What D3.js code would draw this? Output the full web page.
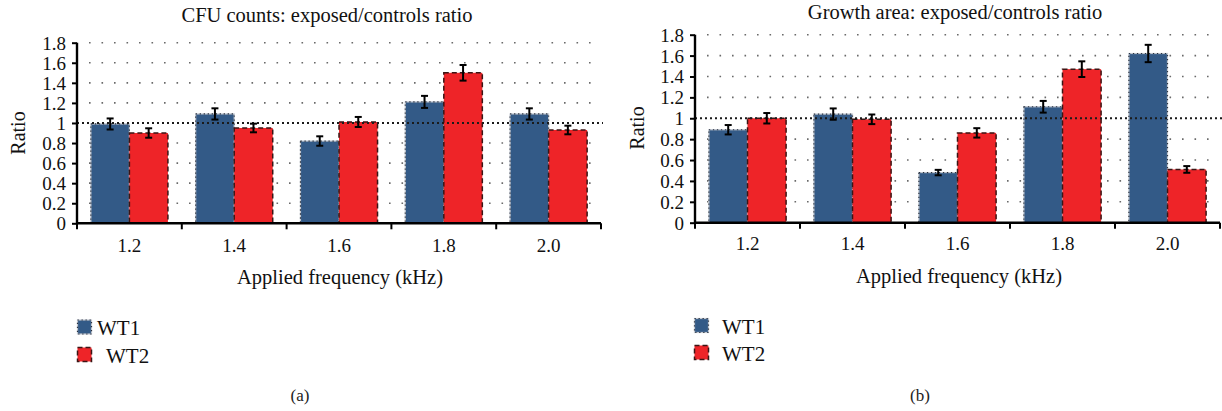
<!DOCTYPE html>
<html>
<head>
<meta charset="utf-8">
<script src="https://cdn.jsdelivr.net/npm/d3@7"></script>
<style>
  body { margin: 0; background: #fff; }
  svg { display: block; }
  svg text { font-family: "Liberation Serif", "Times New Roman", serif; }
</style>
</head>
<body>
<div id="chart"></div>
<script>
// Ratios exposed/controls
const categories = ["1.2", "1.4", "1.6", "1.8", "2.0"];
const seriesNames = ["WT1", "WT2"];
const yTickValues = [0, 0.2, 0.4, 0.6, 0.8, 1, 1.2, 1.4, 1.6, 1.8];

// (a) CFU counts
const cfuWT1 = [0.99, 1.09, 0.82, 1.21, 1.09];
const cfuWT2 = [0.90, 0.95, 1.01, 1.50, 0.93];
const cfuErrWT1 = [0.055, 0.056, 0.047, 0.06, 0.056];
const cfuErrWT2 = [0.047, 0.043, 0.05, 0.078, 0.043];

// (b) Growth area
const areaWT1 = [0.89, 1.04, 0.48, 1.11, 1.62];
const areaWT2 = [1.00, 0.99, 0.86, 1.47, 0.51];
const areaErrWT1 = [0.045, 0.054, 0.026, 0.056, 0.083];
const areaErrWT2 = [0.05, 0.046, 0.045, 0.075, 0.032];

const BLUE = "#335a87";
const RED = "#ee2428";
const FONT = "Liberation Serif, Times New Roman, serif";

const svg = d3.select("#chart").append("svg")
  .attr("width", 1222)
  .attr("height", 411)
  .attr("font-family", FONT);

function fmtTick(v) {
  return (v === 0 || v === 1) ? String(v) : v.toFixed(1);
}

// bar avec bordure pointillée (bleu) ou tiretée (rouge)
function styledRect(g, x, y, w, h, series) {
  if (series === 0) {
    g.append("rect").attr("x", x).attr("y", y).attr("width", w).attr("height", h)
      .attr("fill", BLUE).attr("stroke", "#c3c9d2").attr("stroke-width", 1.2);
    g.append("rect").attr("x", x).attr("y", y).attr("width", w).attr("height", h)
      .attr("fill", "none").attr("stroke", "#2b3340").attr("stroke-width", 1.2)
      .attr("stroke-dasharray", "1.3,2.7");
  } else {
    g.append("rect").attr("x", x).attr("y", y).attr("width", w).attr("height", h)
      .attr("fill", RED).attr("stroke", "#3b1515").attr("stroke-width", 1.5)
      .attr("stroke-dasharray", "5,3");
  }
}

function label(g, x, y, size, txt) {
  return g.append("text").attr("x", x).attr("y", y)
    .attr("font-family", FONT).attr("font-size", size).attr("fill", "#111")
    .text(txt);
}

function drawPanel(cfg) {
  const g = svg.append("g");
  const x = d3.scaleBand().domain(categories).range([cfg.x0, cfg.x1]).paddingInner(0).paddingOuter(0);
  const y = d3.scaleLinear().domain([0, 1.8]).range([cfg.yBottom, cfg.yTop]);
  const inner = d3.scaleBand().domain([0, 1]).range([0, x.bandwidth()]).paddingOuter(0.36).paddingInner(0);

  // grille pointillée
  g.append("g").selectAll("line")
    .data(yTickValues.filter(v => v !== 0 && v !== 1))
    .join("line")
    .attr("x1", cfg.x0 + 12).attr("x2", cfg.x1 - 4)
    .attr("y1", d => y(d)).attr("y2", d => y(d))
    .attr("stroke", "#6a6a6a").attr("stroke-width", 1.6)
    .attr("stroke-dasharray", "1.6,10.9");

  // barres
  const series = [
    { vals: cfg.wt1, errs: cfg.err1 },
    { vals: cfg.wt2, errs: cfg.err2 }
  ];
  const gBars = g.append("g");
  series.forEach((s, si) => {
    s.vals.forEach((v, i) => {
      const bx = x(categories[i]) + inner(si);
      styledRect(gBars, bx, y(v), inner.bandwidth(), y(0) - y(v), si);
    });
  });

  // ligne de référence à 1
  g.append("line")
    .attr("x1", cfg.x0).attr("x2", cfg.x1 + 2)
    .attr("y1", y(1)).attr("y2", y(1))
    .attr("stroke", "#1a1a1a").attr("stroke-width", 2)
    .attr("stroke-dasharray", "2,3");

  // barres d'erreur
  const gErr = g.append("g").attr("stroke", "#000").attr("stroke-width", 2);
  series.forEach((s, si) => {
    s.vals.forEach((v, i) => {
      const cx = x(categories[i]) + inner(si) + inner.bandwidth() / 2;
      const e = s.errs[i];
      gErr.append("line").attr("x1", cx).attr("x2", cx).attr("y1", y(v + e)).attr("y2", y(v - e));
      gErr.append("line").attr("x1", cx - 3.5).attr("x2", cx + 3.5).attr("y1", y(v + e)).attr("y2", y(v + e));
      gErr.append("line").attr("x1", cx - 3.5).attr("x2", cx + 3.5).attr("y1", y(v - e)).attr("y2", y(v - e));
    });
  });

  // axe Y
  const yAxis = d3.axisLeft(y).tickValues(yTickValues).tickFormat(fmtTick).tickSize(5).tickPadding(6);
  const gy = g.append("g").attr("transform", `translate(${cfg.x0},0)`).call(yAxis)
    .attr("font-family", FONT).attr("font-size", 19);
  gy.select(".domain").attr("stroke", "#000").attr("stroke-width", 2.4)
    .attr("d", `M0,${cfg.yBottom + 1}V${cfg.yTop}`);
  gy.selectAll(".tick line").attr("stroke", "#000").attr("stroke-width", 2);
  gy.selectAll(".tick text").attr("fill", "#111").attr("dy", "0.34em");

  // axe X
  const gx = g.append("g").attr("transform", `translate(0,${cfg.yBottom})`);
  gx.append("line").attr("x1", cfg.x0 - 1).attr("x2", cfg.x1).attr("stroke", "#000").attr("stroke-width", 2.4);
  const bounds = categories.map(c => x(c)).concat([cfg.x1]);
  gx.selectAll("line.tk").data(bounds).join("line").attr("class", "tk")
    .attr("x1", d => d).attr("x2", d => d).attr("y1", 0).attr("y2", 6)
    .attr("stroke", "#000").attr("stroke-width", 2);
  categories.forEach(c => {
    label(gx, x(c) + x.bandwidth() / 2, cfg.tickLabelY - cfg.yBottom, 19, c)
      .attr("text-anchor", "middle");
  });

  // titres
  label(g, cfg.titleX, cfg.titleY, 20.5, cfg.title).attr("text-anchor", "middle");
  label(g, cfg.xLabelX, cfg.xLabelY, 20.5, "Applied frequency (kHz)").attr("text-anchor", "middle");
  label(g, 0, 0, 20, "Ratio")
    .attr("transform", `translate(${cfg.yLabelX},${cfg.yLabelY}) rotate(-90)`)
    .attr("text-anchor", "middle");

  // légende
  const gLeg = g.append("g");
  seriesNames.forEach((name, si) => {
    const ly = cfg.legendY[si];
    styledRect(gLeg, cfg.legendX, ly, 14, 14, si);
    label(gLeg, cfg.legendTextX[si], ly + 15, 21, name);
  });

  // lettre du panneau
  label(g, cfg.letterX, 401, 17, cfg.letter).attr("text-anchor", "middle").attr("fill", "#222");
}

drawPanel({
  x0: 77, x1: 601, yBottom: 223.3, yTop: 42.7,
  wt1: cfuWT1, wt2: cfuWT2, err1: cfuErrWT1, err2: cfuErrWT2,
  title: "CFU counts: exposed/controls ratio", titleX: 327, titleY: 22,
  tickLabelY: 252.5, xLabelX: 340, xLabelY: 284,
  yLabelX: 25, yLabelY: 133,
  legendX: 77.5, legendY: [320, 347.5], legendTextX: [97, 106],
  letterX: 300, letter: "(a)"
});

drawPanel({
  x0: 695, x1: 1220, yBottom: 222.7, yTop: 34.7,
  wt1: areaWT1, wt2: areaWT2, err1: areaErrWT1, err2: areaErrWT2,
  title: "Growth area: exposed/controls ratio", titleX: 955, titleY: 19,
  tickLabelY: 250.5, xLabelX: 959, xLabelY: 283,
  yLabelX: 644, yLabelY: 128,
  legendX: 694.5, legendY: [318.5, 345.5], legendTextX: [722, 722],
  letterX: 920, letter: "(b)"
});
</script>
</body>
</html>
